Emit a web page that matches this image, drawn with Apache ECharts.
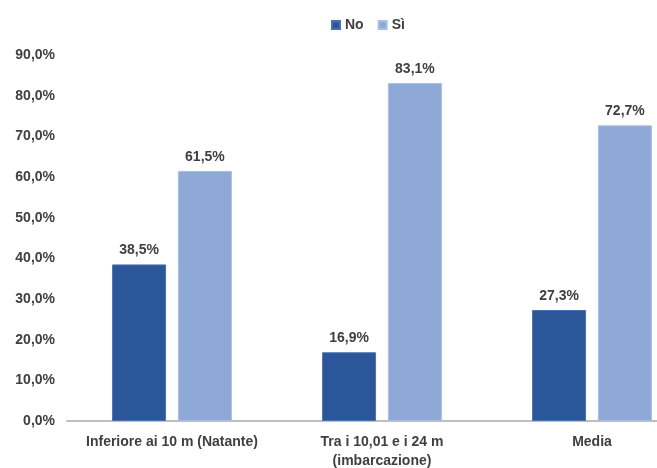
<!DOCTYPE html>
<html>
<head>
<meta charset="utf-8">
<script src="https://cdn.jsdelivr.net/npm/echarts@6/dist/echarts.min.js"></script>
<style>html,body{margin:0;padding:0;background:#fff;}#c{width:657px;height:468px;}</style>
</head>
<body>
<div id="c"></div>
<script>
const categories = ['Inferiore ai 10 m (Natante)', 'Tra i 10,01 e i 24 m\n(imbarcazione)', 'Media'];
const seriesNames = ['No', 'Sì'];
const valuesNo = [38.5, 16.9, 27.3];
const valuesSi = [61.5, 83.1, 72.7];
const yTicks = { min: 0, max: 90, interval: 10 };

const FONT = "'Liberation Sans Narrow', 'Arial Narrow', 'Liberation Sans', sans-serif";
const fmt = v => v.toFixed(1).replace('.', ',') + '%';

const chart = echarts.init(document.getElementById('c'));
const labelCfg = {
  show: true, position: 'top', distance: 7,
  fontFamily: FONT, fontWeight: 'bold', fontSize: 14, color: '#404040',
  formatter: p => fmt(p.value)
};
chart.setOption({
  animation: false,
  legend: {
    data: seriesNames, left: 326, top: 13, itemWidth: 8, itemHeight: 8, itemGap: 14,
    icon: 'rect',
    textStyle: { fontFamily: FONT, fontWeight: 'bold', fontSize: 14, color: '#404040' }
  },
  grid: { left: 67, width: 630, top: 55, bottom: 47, containLabel: false, outerBoundsMode: 'none' },
  xAxis: {
    type: 'category', data: categories,
    axisLine: { lineStyle: { color: '#bfbfbf', width: 2 } },
    axisTick: { show: false },
    axisLabel: { fontFamily: FONT, fontWeight: 'bold', fontSize: 14, color: '#404040', margin: 12, lineHeight: 19, interval: 0, hideOverlap: false }
  },
  yAxis: {
    type: 'value', min: yTicks.min, max: yTicks.max, interval: yTicks.interval,
    axisLine: { show: false }, axisTick: { show: false }, splitLine: { show: false },
    axisLabel: { fontFamily: FONT, fontWeight: 'bold', fontSize: 14, color: '#404040', margin: 12, formatter: v => fmt(v) }
  },
  series: [
    { name: 'No', type: 'bar', data: valuesNo, barWidth: '25.7%', barGap: '22%',
      itemStyle: { color: '#2b5699', borderColor: '#4a72b0', borderWidth: 1 }, label: labelCfg },
    { name: 'Sì', type: 'bar', data: valuesSi, barWidth: '25.7%',
      itemStyle: { color: '#8ea9d6', borderColor: '#a9bfe3', borderWidth: 1 }, label: labelCfg }
  ]
});
</script>
</body>
</html>
